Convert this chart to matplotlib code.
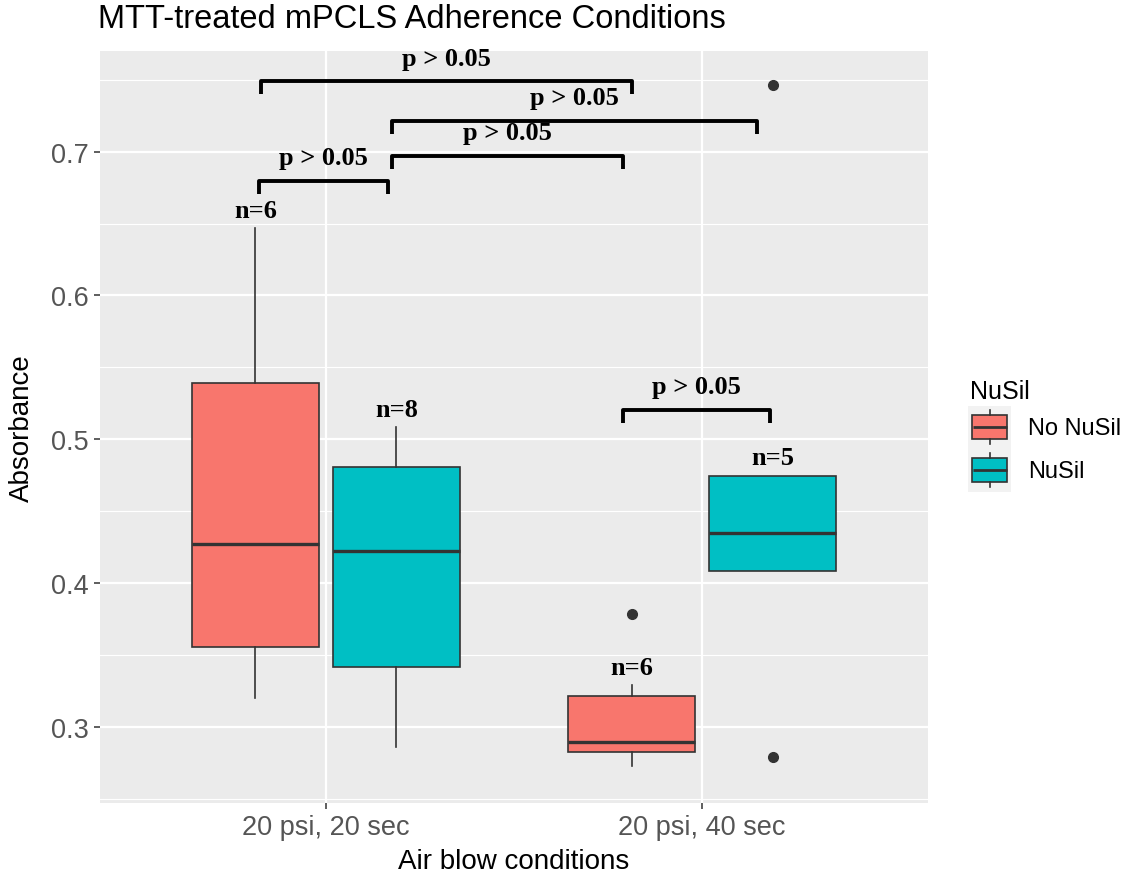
import matplotlib
matplotlib.use("Agg")
import matplotlib.pyplot as plt
from matplotlib.patches import Rectangle

# data
conditions = ["20 psi, 20 sec", "20 psi, 40 sec"]
groups = ["No NuSil", "NuSil"]
colors = ["#F8766D", "#00BFC4"]

# order: (20s, No), (20s, Nu), (40s, No), (40s, Nu)
whislo = [0.320, 0.286, 0.273, 0.4084]
q1 = [0.3557, 0.3414, 0.2827, 0.4084]
med = [0.4272, 0.4223, 0.2897, 0.4349]
q3 = [0.5393, 0.4808, 0.3214, 0.4747]
whishi = [0.6471, 0.5086, 0.3290, 0.4747]
fliers = [[], [], [0.3785], [0.7466, 0.2788]]
n_obs = [6, 8, 6, 5]

# significance brackets: (x left, x right, height, label)
comparisons = [(0.828, 1.814, 0.7490, "p > 0.05"),
               (1.175, 2.146, 0.7216, "p > 0.05"),
               (1.175, 1.790, 0.6972, "p > 0.05"),
               (0.822, 1.164, 0.6798, "p > 0.05"),
               (1.790, 2.180, 0.5205, "p > 0.05")]

W, H = 1129, 878
fig = plt.figure(figsize=(W / 100, H / 100), dpi=100)
ax = fig.add_axes([100 / W, 74 / H, 828 / W, 752 / H])

dodge = 0.1875
positions = []
for i in range(len(conditions)):
    for j in range(len(groups)):
        positions.append(i + 1 + (j - 0.5) * 2 * dodge)

stats = []
for k in range(len(positions)):
    stats.append(dict(med=med[k], q1=q1[k], q3=q3[k], whislo=whislo[k],
                      whishi=whishi[k], fliers=fliers[k]))

bp = ax.bxp(stats, positions=positions, widths=0.3375, patch_artist=True,
            showcaps=False,
            boxprops=dict(edgecolor="#333333", linewidth=1.2),
            medianprops=dict(color="#333333", linewidth=2.4, solid_capstyle="butt"),
            whiskerprops=dict(color="#333333", linewidth=1.2),
            flierprops=dict(marker="o", markerfacecolor="#333333",
                            markeredgecolor="#333333", markersize=7))
for k, box in enumerate(bp["boxes"]):
    box.set_facecolor(colors[k % 2])

ax.set_xlim(0.4, 2.6)
ax.set_ylim(0.247, 0.770)
ax.set_xticks([1, 2])
ax.set_xticklabels(conditions)
ax.set_yticks([0.3, 0.4, 0.5, 0.6, 0.7])
ax.set_yticklabels(["0.3", "0.4", "0.5", "0.6", "0.7"])
ax.set_yticks([0.25, 0.35, 0.45, 0.55, 0.65, 0.75], minor=True)

ax.set_facecolor("#EBEBEB")
ax.set_axisbelow(True)
ax.grid(True, which="major", color="white", linewidth=1.6)
ax.grid(True, which="minor", axis="y", color="white", linewidth=0.8)
for s in ax.spines.values():
    s.set_visible(False)
ax.tick_params(which="major", length=4, width=1.1, color="#333333",
               labelcolor="#555555", labelsize=19.5, pad=4)
ax.tick_params(which="minor", length=0)
for lab in ax.get_xticklabels() + ax.get_yticklabels():
    lab.set_family("Liberation Sans")

# brackets
tip = 0.009
for xl, xr, y, label in comparisons:
    ax.plot([xl, xl, xr, xr], [y - tip, y, y, y - tip], color="black",
            linewidth=2.8, solid_joinstyle="round", solid_capstyle="butt")
    ax.annotate(label, xy=((xl + xr) / 2, y), xytext=(0, 12),
                textcoords="offset points", ha="center", va="baseline",
                fontsize=19, fontweight="bold", family="Liberation Serif")

for k in range(len(positions)):
    ax.annotate("n=%d" % n_obs[k], xy=(positions[k], whishi[k]), xytext=(0, 8),
                textcoords="offset points", ha="center", va="baseline",
                fontsize=19, fontweight="bold", family="Liberation Serif")

# titles
fig.text(98 / W, 1 - 20 / H, "MTT-treated mPCLS Adherence Conditions",
         fontsize=23.5, family="Liberation Sans", color="black", va="center", ha="left")
fig.text(514 / W, 1 - 862 / H, "Air blow conditions", fontsize=20,
         family="Liberation Sans", color="black", va="center", ha="center")
fig.text(22 / W, 1 - 428 / H, "Absorbance", fontsize=20, rotation=90,
         family="Liberation Sans", color="black", va="center", ha="center")

# legend, drawn in pixel space
lg = fig.add_axes([0, 0, 1, 1])
lg.set_xlim(0, W)
lg.set_ylim(H, 0)
lg.axis("off")
lg.text(970, 392, "NuSil", fontsize=18, family="Liberation Sans",
        va="center", ha="left")
for j, g in enumerate(groups):
    top = 407 + 43 * j
    lg.add_patch(Rectangle((968, top), 43, 43, facecolor="#F2F2F2", edgecolor="none"))
    cx = 989.5
    lg.plot([cx, cx], [top + 4, top + 9], color="#333333", linewidth=1.2)
    lg.plot([cx, cx], [top + 33, top + 38], color="#333333", linewidth=1.2)
    lg.add_patch(Rectangle((972, top + 9), 35, 24, facecolor=colors[j],
                           edgecolor="#333333", linewidth=1.2))
    lg.plot([972.5, 1006.5], [top + 21, top + 21], color="#333333", linewidth=2.0,
            solid_capstyle="butt")
    lg.text(1028, top + 22, g, fontsize=17, family="Liberation Sans",
            va="center", ha="left")

fig.savefig("out.png", dpi=100)
